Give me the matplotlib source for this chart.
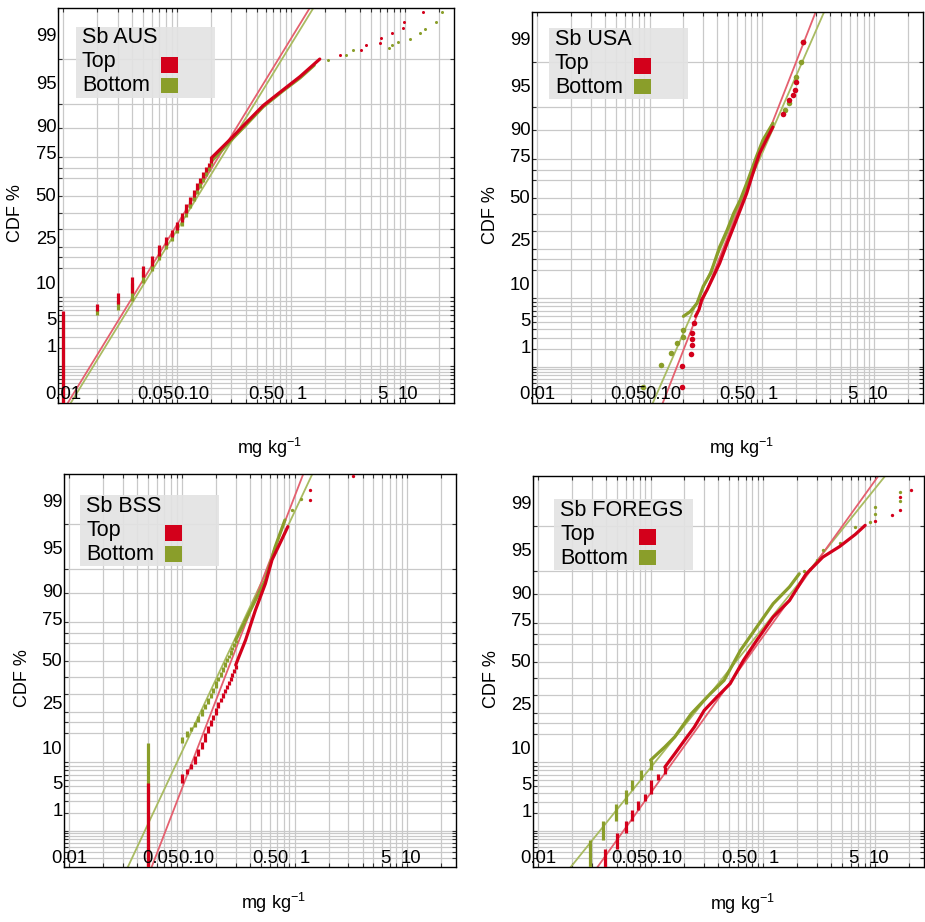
from statistics import NormalDist
import numpy as np
import matplotlib
matplotlib.use('Agg')
import matplotlib.pyplot as plt
import matplotlib.transforms as mtransforms
from matplotlib.patches import Rectangle
from matplotlib.ticker import FixedLocator, NullFormatter, LogLocator

plt.rcParams['font.family'] = ['Liberation Sans', 'DejaVu Sans']
plt.rcParams['mathtext.default'] = 'regular'

RED = '#d3001b'
GREEN = '#8a9e2a'
RED_FIT = '#e4606f'
GREEN_FIT = '#a9bb62'

# ---- data (mg/kg, cumulative %) ----
# Sb AUS
aus_top_step_x = [0.01, 0.02, 0.03, 0.04, 0.05, 0.06, 0.07, 0.08, 0.09, 0.10,
                  0.11, 0.12, 0.13, 0.14, 0.15, 0.16, 0.17, 0.18, 0.19, 0.20]
aus_top_step_cdf = [6.8, 8.4, 11.2, 16.4, 20.8, 25.4, 31.4, 35.6, 39.8, 44.1,
                    50.0, 55.0, 59.5, 63.5, 67.0, 70.0, 73.0, 75.5, 77.5, 79.5]
aus_top_line_x = [0.20, 0.29, 0.39, 0.57, 0.85, 1.2, 1.79]
aus_top_line_cdf = [79.5, 86.4, 90.8, 94.7, 96.8, 98.0, 98.98]
aus_top_dot_x = [2.71, 4.14, 4.57, 6.0, 6.2, 7.74, 9.6, 9.8, 14.4]
aus_top_dot_cdf = [99.12, 99.31, 99.42, 99.49, 99.58, 99.67, 99.74, 99.80, 99.88]

aus_bot_step_x = aus_top_step_x
aus_bot_step_cdf = [6.1, 7.1, 9.0, 14.5, 19.0, 23.5, 29.0, 33.5, 38.0, 42.0,
                    47.5, 52.5, 57.0, 61.0, 64.5, 68.0, 71.0, 73.5, 76.0, 78.0]
aus_bot_line_x = [0.20, 0.29, 0.39, 0.57, 0.85, 1.2, 1.6]
aus_bot_line_cdf = [78.0, 85.8, 90.3, 94.5, 96.7, 97.9, 98.7]
aus_bot_dot_x = [2.11, 3.05, 3.5, 7.3, 7.7, 8.7, 11.0, 13.6, 15.0, 18.6, 21.3]
aus_bot_dot_cdf = [98.96, 99.15, 99.29, 99.35, 99.44, 99.51, 99.57, 99.66, 99.72, 99.80, 99.88]

# Sb USA
usa_top_line_x = [0.256, 0.275, 0.29, 0.325, 0.37, 0.42, 0.49, 0.56, 0.64, 0.73, 0.83, 0.95, 1.09, 1.25]
usa_top_line_cdf = [6.0, 7.3, 9.6, 12.5, 17.2, 22.8, 33.0, 42.6, 52.7, 62.6, 73.5, 82.4, 87.2, 90.9]
usa_top_dot_x = [0.196, 0.196, 0.232, 0.24, 0.24, 0.24, 0.25, 1.53, 1.75, 1.9, 1.95, 2.0, 2.3]
usa_top_dot_cdf = [0.42, 1.02, 1.65, 2.3, 2.85, 3.5, 4.85, 93.8, 95.9, 96.6, 97.1, 97.8, 99.58]

usa_bot_line_x = [0.2, 0.23, 0.265, 0.3, 0.35, 0.42, 0.49, 0.56, 0.64, 0.75, 0.89, 1.02, 1.25]
usa_bot_line_cdf = [6.0, 6.9, 8.8, 13.6, 18.5, 31.0, 40.6, 50.7, 58.7, 70.0, 81.0, 87.2, 91.8]
usa_bot_dot_x = [0.087, 0.126, 0.155, 0.177, 0.2, 0.2, 1.6, 1.75, 2.0, 2.2, 2.3]
usa_bot_dot_cdf = [0.43, 1.09, 1.72, 2.5, 3.1, 3.9, 94.4, 95.5, 98.2, 99.0, 99.58]

# Sb BSS
bss_top_step_x = [0.05, 0.10, 0.11, 0.12, 0.13, 0.14, 0.15, 0.16, 0.17, 0.18, 0.19,
                  0.20, 0.21, 0.22, 0.23, 0.24, 0.25, 0.26, 0.27, 0.28, 0.29, 0.30]
bss_top_step_cdf = [5.4, 7.2, 8.3, 9.5, 11.5, 13.8, 16.5, 20.0, 23.0, 25.8, 28.5,
                    32.0, 35.2, 38.0, 40.5, 43.0, 45.5, 48.0, 50.3, 52.4, 55.0, 57.5]
bss_top_line_x = [0.30, 0.32, 0.367, 0.449, 0.55, 0.63, 0.77, 0.87]
bss_top_line_cdf = [57.5, 62.3, 71.5, 84.7, 92.3, 96.3, 98.2, 98.9]
bss_top_dot_x = [1.36, 1.36, 3.27]
bss_top_dot_cdf = [99.65, 99.78, 99.89]

bss_bot_step_x = bss_top_step_x
bss_bot_step_cdf = [15.8, 18.4, 20.6, 22.5, 25.0, 28.0, 31.5, 34.5, 37.5, 40.5, 43.5,
                    48.0, 50.5, 53.5, 56.5, 59.0, 61.5, 63.5, 66.0, 68.0, 70.0, 71.5]
bss_bot_line_x = [0.30, 0.367, 0.449, 0.55, 0.67, 0.82]
bss_bot_line_cdf = [71.5, 80.8, 88.0, 93.0, 97.6, 99.16]
bss_bot_dot_x = [0.94, 1.14]
bss_bot_dot_cdf = [99.45, 99.67]

# Sb FOREGS
fg_top_step_x = [0.039, 0.05, 0.06, 0.068, 0.078, 0.089, 0.10, 0.117, 0.134]
fg_top_step_cdf = [0.47, 0.9, 1.5, 2.2, 3.1, 3.9, 6.0, 7.3, 8.8]
fg_top_line_x = [0.134, 0.164, 0.2, 0.245, 0.3, 0.39, 0.51, 0.67, 0.88, 1.23,
                 1.72, 2.4, 3.4, 4.8, 6.6, 8.1]
fg_top_line_cdf = [8.8, 12.5, 17.2, 22.9, 31.3, 38.9, 46.8, 60.9, 72.0, 82.6,
                   88.3, 94.4, 96.8, 97.8, 98.6, 99.03]
fg_top_dot_x = [10.0, 13.9, 16.5, 16.5, 20.8]
fg_top_dot_cdf = [99.2, 99.36, 99.5, 99.72, 99.8]

fg_bot_step_x = [0.029, 0.038, 0.049, 0.06, 0.068, 0.083, 0.10]
fg_bot_step_cdf = [0.67, 1.5, 2.8, 4.4, 6.0, 8.0, 10.6]
fg_bot_line_x = [0.10, 0.134, 0.164, 0.23, 0.34, 0.45, 0.63, 0.88, 1.23, 1.72, 2.1]
fg_bot_line_cdf = [10.6, 14.8, 18.6, 29.5, 40.8, 48.8, 66.6, 78.4, 87.3, 91.9, 94.5]
fg_bot_dot_x = [2.3, 2.6, 3.0, 3.4, 4.8, 6.6, 8.9, 10.0, 10.0, 16.5, 16.5]
fg_bot_dot_cdf = [95.0, 95.3, 96.5, 97.5, 98.1, 98.96, 99.15, 99.4, 99.56, 99.67, 99.78]

# lognormal fits: geometric median and geometric sd, [Top, Bottom]
fit_median = {'AUS': [0.116, 0.124], 'USA': [0.593, 0.58],
              'BSS': [0.24, 0.204], 'FOREGS': [0.54, 0.435]}
fit_gsd = {'AUS': [2.27, 2.275], 'USA': [1.69, 1.80],
           'BSS': [1.68, 1.88], 'FOREGS': [2.62, 2.94]}

y_ticks = [1, 5, 10, 25, 50, 75, 90, 95, 99]
y_label_pos = [0.140, 0.209, 0.300, 0.414, 0.524, 0.628, 0.698, 0.807, 0.927]
y_grid = [0.3, 0.4, 0.5, 0.6, 0.7, 0.8, 0.9, 2, 3, 4, 6, 7, 8, 9,
          20, 30, 40, 60, 70, 80]
x_labels = ['0.01', '0.05', '0.10', '0.50', '1', '5', '10']
x_label_pos = [0.0101, 0.0645, 0.133, 0.61, 1.24, 6.35, 10.7]

_nd = NormalDist()
_ppf = np.vectorize(_nd.inv_cdf, otypes=[float])
_cdf = np.vectorize(_nd.cdf, otypes=[float])


def probit(p):
    p = np.clip(np.asarray(p, dtype=float), 1e-7, 100 - 1e-7)
    return _ppf(p / 100.0)


def unprobit(z):
    return _cdf(np.asarray(z, dtype=float)) * 100.0


YMIN, YMAX = 0.2, 99.9


def draw_series(ax, color, step_x, step_cdf, line_x, line_cdf, dot_x, dot_cdf, ms):
    if step_x:
        lo = [YMIN] + list(step_cdf[:-1])
        ax.vlines(step_x, lo, step_cdf, color=color, lw=2.3, zorder=3)
    if line_x:
        ax.plot(line_x, line_cdf, '-', color=color, lw=2.3, zorder=3,
                solid_capstyle='round')
    if dot_x:
        ax.plot(dot_x, dot_cdf, 'o', color=color, ms=ms, mew=0, zorder=3)


def legend_box(fig, ax, anchor, title):
    tr = fig.dpi_scale_trans + mtransforms.ScaledTranslation(anchor[0], anchor[1], ax.transAxes)
    ax.add_patch(Rectangle((0, -0.71), 1.39, 0.71, transform=tr, facecolor='#e3e3e3',
                           edgecolor='none', alpha=0.92, zorder=5))
    ax.text(0.06, -0.11, title, transform=tr, fontsize=15.5, va='center', ha='left', zorder=6)
    ax.text(0.06, -0.35, 'Top', transform=tr, fontsize=15.5, va='center', ha='left', zorder=6)
    ax.text(0.06, -0.59, 'Bottom', transform=tr, fontsize=15.5, va='center', ha='left', zorder=6)
    ax.add_patch(Rectangle((0.847, -0.457), 0.17, 0.16, transform=tr, facecolor=RED,
                           edgecolor='none', zorder=6))
    ax.add_patch(Rectangle((0.847, -0.663), 0.17, 0.156, transform=tr, facecolor=GREEN,
                           edgecolor='none', zorder=6))


fig = plt.figure(figsize=(9.25, 9.22), dpi=100)

panels = [
    ('AUS', [0.0627, 0.5629, 0.4281, 0.4284], (0.045, 0.952), 2.2, -0.115,
     (aus_top_step_x, aus_top_step_cdf, aus_top_line_x, aus_top_line_cdf, aus_top_dot_x, aus_top_dot_cdf),
     (aus_bot_step_x, aus_bot_step_cdf, aus_bot_line_x, aus_bot_line_cdf, aus_bot_dot_x, aus_bot_dot_cdf)),
    ('USA', [0.5751, 0.5629, 0.4227, 0.4241], (0.0435, 0.959), 4.0, -0.115,
     ([], [], usa_top_line_x, usa_top_line_cdf, usa_top_dot_x, usa_top_dot_cdf),
     ([], [], usa_bot_line_x, usa_bot_line_cdf, usa_bot_dot_x, usa_bot_dot_cdf)),
    ('BSS', [0.0692, 0.0597, 0.4238, 0.4262], (0.041, 0.946), 2.4, -0.092,
     (bss_top_step_x, bss_top_step_cdf, bss_top_line_x, bss_top_line_cdf, bss_top_dot_x, bss_top_dot_cdf),
     (bss_bot_step_x, bss_bot_step_cdf, bss_bot_line_x, bss_bot_line_cdf, bss_bot_dot_x, bss_bot_dot_cdf)),
    ('FOREGS', [0.5762, 0.0597, 0.4227, 0.4240], (0.054, 0.941), 2.4, -0.095,
     (fg_top_step_x, fg_top_step_cdf, fg_top_line_x, fg_top_line_cdf, fg_top_dot_x, fg_top_dot_cdf),
     (fg_bot_step_x, fg_bot_step_cdf, fg_bot_line_x, fg_bot_line_cdf, fg_bot_dot_x, fg_bot_dot_cdf)),
]

for name, rect, anchor, ms, xlab_y, top, bot in panels:
    ax = fig.add_axes(rect)
    ax.set_xscale('log')
    ax.set_yscale('function', functions=(probit, unprobit))
    ax.set_xlim(0.009, 27)
    ax.set_ylim(YMIN, YMAX)

    ax.xaxis.set_major_locator(LogLocator(base=10))
    ax.xaxis.set_minor_locator(LogLocator(base=10, subs=np.arange(2, 10)))
    ax.yaxis.set_major_locator(FixedLocator(y_ticks))
    ax.yaxis.set_minor_locator(FixedLocator(y_grid))
    for axis in (ax.xaxis, ax.yaxis):
        axis.set_major_formatter(NullFormatter())
        axis.set_minor_formatter(NullFormatter())
    ax.grid(True, which='both', color='#c9c9c9', lw=0.9, zorder=0)
    ax.set_axisbelow(True)
    ax.tick_params(which='both', direction='in', length=3, width=0.8,
                   top=True, right=True, color='#333333')
    for sp in ax.spines.values():
        sp.set_color('black')
        sp.set_linewidth(1.0)

    # fitted lognormal lines
    zz = np.array([-3.2, 3.4])
    for k, col in ((1, GREEN_FIT), (0, RED_FIT)):
        xs = fit_median[name][k] * fit_gsd[name][k] ** zz
        ax.plot(xs, unprobit(zz), '-', color=col, lw=1.3, zorder=2)

    draw_series(ax, GREEN, *bot, ms=ms)
    draw_series(ax, RED, *top, ms=ms)

    # tick labels as placed in the original
    for lab, yp in zip(y_ticks, y_label_pos):
        ax.text(-0.004, yp, str(lab), transform=ax.transAxes, ha='right', va='center',
                fontsize=13.3, clip_on=False)
    btr = mtransforms.blended_transform_factory(ax.transData, ax.transAxes)
    for lab, xp in zip(x_labels, x_label_pos):
        ax.text(xp, 0.0225, lab, transform=btr, ha='center', va='center',
                fontsize=13.3, zorder=4, clip_on=False)

    ax.text(-0.107, 0.48, 'CDF %', rotation=90, transform=ax.transAxes,
            ha='center', va='center', fontsize=13)
    ax.text(0.535, xlab_y, r'mg kg$^{-1}$', transform=ax.transAxes,
            ha='center', va='center', fontsize=13)

    legend_box(fig, ax, anchor, 'Sb ' + name)

fig.savefig('out.png', dpi=100)
